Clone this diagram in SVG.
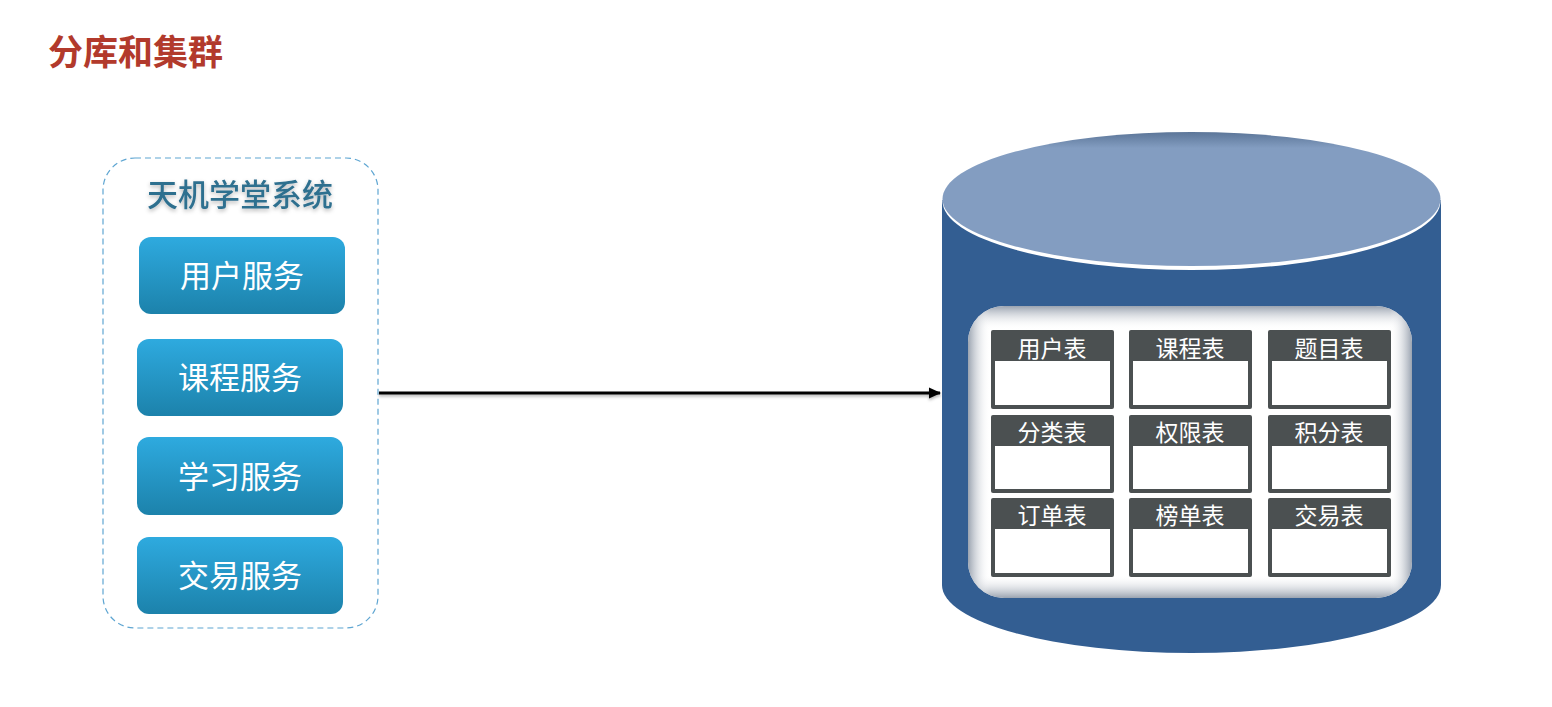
<svg xmlns="http://www.w3.org/2000/svg" width="1552" height="707" viewBox="0 0 1552 707">
<defs>
<style>
.cjk{font-family:"Noto Sans CJK SC","Noto Sans",sans-serif}
.svc text{fill:#fff;font-size:31px;text-anchor:middle;font-weight:400}
.tbl .hd{fill:#4b5051}
.tbl .bd{fill:#fff}
.tbl text{fill:#fff;font-size:23px;text-anchor:middle;font-weight:400}
</style>
<linearGradient id="btn" x1="0" y1="0" x2="0" y2="1">
<stop offset="0" stop-color="#2eaadf"/>
<stop offset="1" stop-color="#1c82ab"/>
</linearGradient>
<linearGradient id="innerV" x1="0" y1="0" x2="0" y2="1">
<stop offset="0" stop-color="#9aa3b0"/>
<stop offset="0.08" stop-color="#ffffff" stop-opacity="0"/>
<stop offset="0.92" stop-color="#ffffff" stop-opacity="0"/>
<stop offset="1" stop-color="#9aa3b0"/>
</linearGradient>
<linearGradient id="innerH" x1="0" y1="0" x2="1" y2="0">
<stop offset="0" stop-color="#9aa3b0"/>
<stop offset="0.05" stop-color="#ffffff" stop-opacity="0"/>
<stop offset="0.95" stop-color="#ffffff" stop-opacity="0"/>
<stop offset="1" stop-color="#9aa3b0"/>
</linearGradient>
<linearGradient id="topShade" x1="0" y1="0" x2="0" y2="1">
<stop offset="0" stop-color="#5b7598"/>
<stop offset="0.12" stop-color="#839dc1"/>
<stop offset="1" stop-color="#839dc1"/>
</linearGradient>
<filter id="sh" x="-10%" y="-20%" width="120%" height="150%">
<feDropShadow dx="0" dy="2" stdDeviation="2" flood-color="#000" flood-opacity="0.3"/>
</filter>
<filter id="lsh" filterUnits="userSpaceOnUse" x="360" y="380" width="600" height="30">
<feDropShadow dx="0" dy="2" stdDeviation="1.5" flood-color="#000" flood-opacity="0.3"/>
</filter>
<marker id="arr" markerWidth="12" markerHeight="12" refX="11" refY="6" orient="auto" markerUnits="userSpaceOnUse">
<path d="M0,0.5 L12,6 L0,11.5 z" fill="#000"/>
</marker>
</defs>

<rect width="1552" height="707" fill="#fff"/>

<g id="title">
<text x="48" y="65" class="cjk" font-size="35" font-weight="bold" fill="#b23a2c">分库和集群</text>
</g>

<g id="system">
<rect x="103" y="158" width="275" height="470" rx="32" fill="none" stroke="#5fa6d2" stroke-width="1.2" stroke-dasharray="6,4"/>
<text x="240" y="206" class="cjk" font-size="31" font-weight="500" fill="#2f6f8f" text-anchor="middle" filter="url(#sh)">天机学堂系统</text>
</g>

<g id="svc-user" class="svc cjk">
<rect x="139" y="237" width="206" height="77" rx="12" fill="url(#btn)"/>
<text x="242" y="287">用户服务</text>
</g>
<g id="svc-course" class="svc cjk">
<rect x="137" y="339" width="206" height="77" rx="12" fill="url(#btn)"/>
<text x="240" y="389">课程服务</text>
</g>
<g id="svc-learn" class="svc cjk">
<rect x="137" y="437" width="206" height="78" rx="12" fill="url(#btn)"/>
<text x="240" y="488">学习服务</text>
</g>
<g id="svc-trade" class="svc cjk">
<rect x="137" y="537" width="206" height="77" rx="12" fill="url(#btn)"/>
<text x="240" y="587">交易服务</text>
</g>

<g id="connectors" filter="url(#lsh)">
<line x1="379" y1="393" x2="940" y2="393" stroke="#000" stroke-width="3" marker-end="url(#arr)"/>
</g>

<g id="database">
<ellipse cx="1191.5" cy="585" rx="249.5" ry="68" fill="#335e92"/>
<rect x="942" y="200" width="499" height="385" fill="#335e92"/>
<ellipse cx="1191.5" cy="201" rx="249" ry="69" fill="#ffffff"/>
<ellipse cx="1191.5" cy="199" rx="249" ry="67" fill="url(#topShade)"/>
<rect x="968" y="306" width="444" height="292" rx="36" fill="#ffffff"/>
<rect x="968" y="306" width="444" height="292" rx="36" fill="url(#innerV)"/>
<rect x="968" y="306" width="444" height="292" rx="36" fill="url(#innerH)"/>
</g>

<g id="tables" class="tbl cjk">
<g id="t-user"><rect class="hd" x="991" y="330" width="123" height="79" rx="2"/><rect class="bd" x="995" y="361" width="115" height="44"/><text x="1052" y="357">用户表</text></g>
<g id="t-course"><rect class="hd" x="1129" y="330" width="123" height="79" rx="2"/><rect class="bd" x="1133" y="361" width="115" height="44"/><text x="1190" y="357">课程表</text></g>
<g id="t-question"><rect class="hd" x="1268" y="330" width="123" height="79" rx="2"/><rect class="bd" x="1272" y="361" width="115" height="44"/><text x="1329" y="357">题目表</text></g>
<g id="t-category"><rect class="hd" x="991" y="415" width="123" height="78" rx="2"/><rect class="bd" x="995" y="446" width="115" height="43"/><text x="1052" y="441">分类表</text></g>
<g id="t-perm"><rect class="hd" x="1129" y="415" width="123" height="78" rx="2"/><rect class="bd" x="1133" y="446" width="115" height="43"/><text x="1190" y="441">权限表</text></g>
<g id="t-points"><rect class="hd" x="1268" y="415" width="123" height="78" rx="2"/><rect class="bd" x="1272" y="446" width="115" height="43"/><text x="1329" y="441">积分表</text></g>
<g id="t-order"><rect class="hd" x="991" y="498" width="123" height="79" rx="2"/><rect class="bd" x="995" y="529" width="115" height="44"/><text x="1052" y="524">订单表</text></g>
<g id="t-rank"><rect class="hd" x="1129" y="498" width="123" height="79" rx="2"/><rect class="bd" x="1133" y="529" width="115" height="44"/><text x="1190" y="524">榜单表</text></g>
<g id="t-trade"><rect class="hd" x="1268" y="498" width="123" height="79" rx="2"/><rect class="bd" x="1272" y="529" width="115" height="44"/><text x="1329" y="524">交易表</text></g>
</g>
</svg>
